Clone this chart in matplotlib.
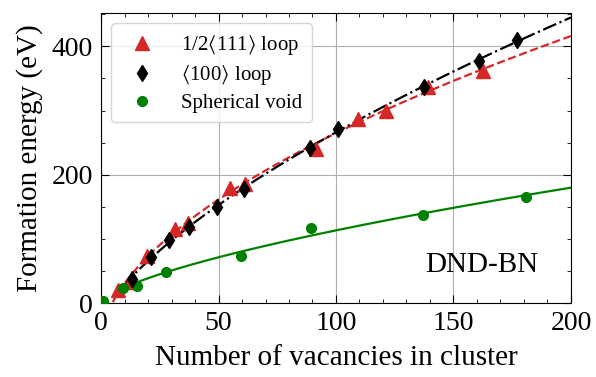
import numpy as np
import matplotlib
matplotlib.use("Agg")
import matplotlib.pyplot as plt
from matplotlib.ticker import MultipleLocator

plt.rcParams['font.family'] = 'Liberation Serif'
plt.rcParams['mathtext.fontset'] = 'stix'

# 1/2<111> loops
n_111 = [7.4, 12.3, 19.4, 31.5, 37.2, 54.9, 61.3, 91.5, 109.5, 121.3, 139.3, 162.7]
e_111 = [21, 33, 73, 115, 125, 179, 186, 240, 287, 299, 337, 361]
# <100> loops
n_100 = [13.1, 21.1, 28.9, 37.4, 49.2, 61.0, 88.9, 101.0, 137.6, 161.0, 176.9]
e_100 = [38, 72, 98, 118, 150, 178, 242, 271, 337, 378, 410]
# spherical voids
n_void = [1.0, 9.2, 15.5, 27.5, 59.4, 89.2, 137.2, 180.9]
e_void = [4, 24, 27, 49, 74, 117, 138, 166]

fig = plt.figure(figsize=(5.96, 3.77), dpi=100)
ax = fig.add_axes([0.1695, 0.196, 0.7885, 0.7695])

def loop_fit(n, e, n0, style, color):
    # loop energy ~ sqrt(N) * (a ln N + b) + c
    n = np.asarray(n, float)
    A = np.column_stack([np.sqrt(n) * np.log(n), np.sqrt(n), np.ones_like(n)])
    a, b, c = np.linalg.lstsq(A, np.asarray(e, float), rcond=None)[0]
    x = np.linspace(n0, 200, 300)
    ax.plot(x, np.sqrt(x) * (a * np.log(x) + b) + c, style, color=color, lw=1.6, zorder=2)

def void_fit(n, e, n0, style, color):
    # void energy ~ N^(2/3)
    n = np.asarray(n, float)
    s = n ** (2 / 3)
    a = np.dot(s, e) / np.dot(s, s)
    x = np.linspace(n0, 200, 300)
    ax.plot(x, a * x ** (2 / 3), style, color=color, lw=1.6, zorder=2)

loop_fit(n_111, e_111, 5.0, '--', '#d62728')
loop_fit(n_100, e_100, 9.5, '-.', 'black')
void_fit(n_void, e_void, 9.0, '-', 'green')

ax.plot(n_111, e_111, '^', color='#d62728', ms=9.5, ls='none', zorder=3,
        label=r'1/2$\langle$111$\rangle$ loop')
ax.plot(n_100, e_100, 'd', color='black', ms=8.5, ls='none', zorder=4,
        label=r'$\langle$100$\rangle$ loop')
ax.plot(n_void, e_void, 'o', color='green', ms=7, ls='none', zorder=3,
        label='Spherical void')

ax.set_xlim(0, 200)
ax.set_ylim(0, 452)
ax.xaxis.set_major_locator(MultipleLocator(50))
ax.xaxis.set_minor_locator(MultipleLocator(10))
ax.yaxis.set_major_locator(MultipleLocator(200))
ax.yaxis.set_minor_locator(MultipleLocator(50))
ax.tick_params(which='both', direction='in', top=True, right=True, labelsize=20)
ax.tick_params(which='major', length=6, pad=6)
ax.tick_params(which='minor', length=3)
ax.grid(True, which='major', color='#b0b0b0', lw=0.8)
ax.set_axisbelow(True)

ax.set_xlabel('Number of vacancies in cluster', fontsize=21, labelpad=6)
ax.set_ylabel('Formation energy (eV)', fontsize=21, labelpad=6)
ax.text(0.81, 0.13, 'DND-BN', transform=ax.transAxes, fontsize=21,
        ha='center', va='center')
ax.legend(loc='upper left', fontsize=15, handletextpad=0.9, borderpad=0.45,
          labelspacing=0.3, borderaxespad=0.5)

fig.savefig('out.png', dpi=100)
